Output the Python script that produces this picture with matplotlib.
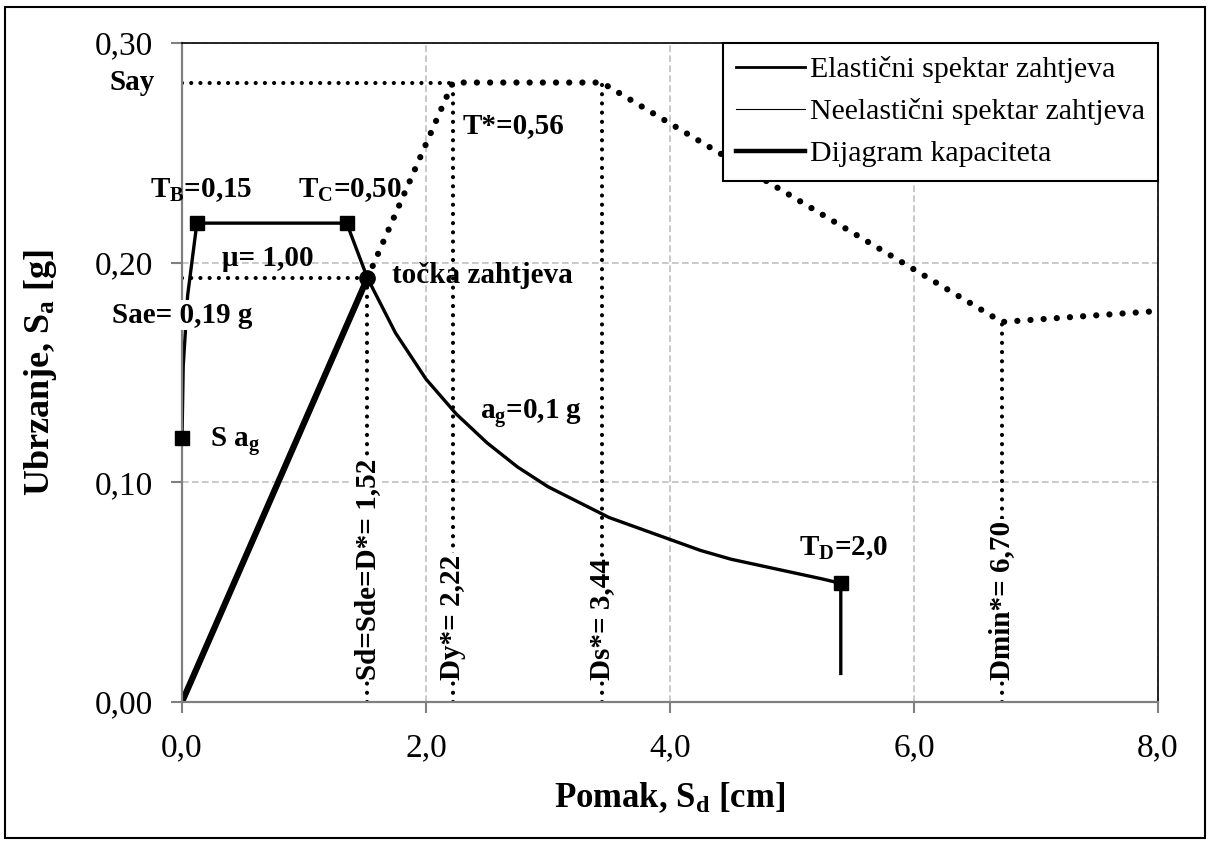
import matplotlib
matplotlib.use("Agg")
import matplotlib.pyplot as plt
from matplotlib.lines import Line2D
from matplotlib.patches import Rectangle

plt.rcParams['font.family'] = ['Liberation Serif', 'DejaVu Serif']
plt.rcParams['mathtext.fontset'] = 'custom'
plt.rcParams['mathtext.rm'] = 'Liberation Serif'
plt.rcParams['mathtext.bf'] = 'Liberation Serif:bold'
plt.rcParams['mathtext.it'] = 'Liberation Serif:italic'

# elastic demand spectrum (ADRS), mu = 1.00 so inelastic is the same curve
elastic_sd = [0.0, 0.01, 0.046, 0.122, 1.35, 1.52, 1.75, 2.0, 2.25, 2.5, 2.75, 3.0,
              3.25, 3.5, 3.75, 4.0, 4.25, 4.5, 4.75, 5.0, 5.25, 5.40, 5.40]
elastic_sa = [0.120, 0.153, 0.185, 0.218, 0.218, 0.193, 0.168, 0.147, 0.131, 0.118,
              0.107, 0.098, 0.091, 0.084, 0.079, 0.074, 0.069, 0.065, 0.062, 0.059,
              0.056, 0.054, 0.013]
# corner periods S*ag, T_B, T_C, T_D
corner_sd = [0.0, 0.122, 1.35, 5.40]
corner_sa = [0.120, 0.218, 0.218, 0.054]

# capacity diagram (solid up to the demand point, dotted beyond)
cap_sd = [0.0, 1.52]
cap_sa = [0.0, 0.193]
cap_rest_sd = [1.52, 2.22, 3.44, 6.72, 8.0]
cap_rest_sa = [0.193, 0.282, 0.282, 0.173, 0.178]

demand_sd, demand_sa = 1.52, 0.193
say = 0.282
dy, ds, dmin = 2.22, 3.44, 6.72
dmin_sa = 0.173

xticks = [0, 2, 4, 6, 8]
xlabels = ['0,0', '2,0', '4,0', '6,0', '8,0']
yticks = [0.0, 0.1, 0.2, 0.3]
ylabels = ['0,00', '0,10', '0,20', '0,30']

fig = plt.figure(figsize=(12.11, 8.46), dpi=100)
fig.patches.append(Rectangle((5 / 1211, 8 / 846), 1200 / 1211, 831 / 846, transform=fig.transFigure,
                             fill=False, edgecolor='black', linewidth=1.5))
ax = fig.add_axes([182 / 1211, 1 - 702 / 846, 976 / 1211, 659 / 846])
ax.set_xlim(0, 8)
ax.set_ylim(0, 0.30)

ax.grid(True, color='#c0c0c0', linestyle=(0, (4, 2)), linewidth=1.2)
ax.set_axisbelow(True)

big_dots = dict(color='black', linewidth=4.5, linestyle=(0, (0.01, 2.1)), dash_capstyle='round')
small_dots = dict(color='black', linewidth=3.0, linestyle=(0, (0.01, 2.2)), dash_capstyle='round')

# reference dotted lines
ax.plot([0, dy], [say, say], **small_dots)
ax.plot([0, demand_sd], [demand_sa, demand_sa], **small_dots)
ax.plot([demand_sd, demand_sd], [0, demand_sa], **small_dots)
ax.plot([dy, dy], [0, say], **small_dots)
ax.plot([ds, ds], [0, say], **small_dots)
ax.plot([dmin, dmin], [0, dmin_sa], **small_dots)

ax.plot(cap_rest_sd, cap_rest_sa, **big_dots)
ax.plot(elastic_sd, elastic_sa, color='black', linewidth=1.0)
ax.plot(elastic_sd, elastic_sa, color='black', linewidth=2.4)
ax.plot(cap_sd, cap_sa, color='black', linewidth=4.5, solid_capstyle='butt')
ax.plot(corner_sd, corner_sa, linestyle='none', marker='s', markersize=10, color='black',
        clip_on=False, zorder=4)
ax.plot([demand_sd], [demand_sa], linestyle='none', marker='o', markersize=11, color='black', zorder=4)

# spines and ticks
for s in ['left', 'bottom']:
    ax.spines[s].set_color('#808080')
    ax.spines[s].set_linewidth(1.6)
for s in ['top', 'right']:
    ax.spines[s].set_color('black')
    ax.spines[s].set_linewidth(1.2)
ax.set_xticks(xticks)
ax.set_xticklabels(xlabels)
ax.set_yticks(yticks)
ax.set_yticklabels(ylabels)
ax.tick_params(axis='both', direction='out', length=8, width=1.5, color='#808080', labelsize=24)
ax.tick_params(axis='x', pad=14)
ax.tick_params(axis='y', pad=13)

ax.text(0.5, -0.145, r'Pomak, S$_\mathbf{d}$ [cm]', transform=ax.transAxes, ha='center', va='center',
        fontsize=25, fontweight='bold')
ax.text(-0.145, 0.5, r'Ubrzanje, S$_\mathbf{a}$ [g]', transform=ax.transAxes, ha='center', va='center',
        rotation=90, fontsize=26, fontweight='bold')

# annotations
bold = dict(fontsize=21, fontweight='bold', color='black')
ax.text(-0.22, say, 'Say', ha='right', va='center', clip_on=False, **bold)
ax.text(-0.26, 0.233, r'$\mathbf{T}_\mathbf{B}$=0,15', ha='left', va='center', clip_on=False, **bold)
ax.text(0.95, 0.233, r'$\mathbf{T}_\mathbf{C}$=0,50', ha='left', va='center', **bold)
ax.text(0.33, 0.202, 'μ= 1,00', ha='left', va='center', **bold)
ax.text(1.72, 0.194, 'točka zahtjeva', ha='left', va='center', **bold)
ax.text(0.0, 0.176, 'Sae= 0,19 g', ha='center', va='center', clip_on=False,
        bbox=dict(facecolor='white', edgecolor='none', pad=1), **bold)
ax.text(0.23, 0.1185, r'S a$_\mathbf{g}$', ha='left', va='center', **bold)
ax.text(2.44, 0.1315, r'a$_\mathbf{g}$=0,1 g', ha='left', va='center', **bold)
ax.text(2.30, 0.2626, 'T*=0,56', ha='left', va='center', **bold)
ax.text(5.42, 0.070, r'$\mathbf{T}_\mathbf{D}$=2,0', ha='center', va='center', **bold)

white = dict(facecolor='white', edgecolor='none', pad=1)
ax.text(demand_sd, 0.010, 'Sd=Sde=D*= 1,52', rotation=90, ha='center', va='bottom', bbox=white, **bold)
ax.text(dy, 0.010, 'Dy*= 2,22', rotation=90, ha='center', va='bottom', bbox=white, **bold)
ax.text(ds, 0.010, 'Ds*= 3,44', rotation=90, ha='center', va='bottom', bbox=white, **bold)
ax.text(dmin, 0.010, 'Dmin*= 6,70', rotation=90, ha='center', va='bottom', bbox=white, **bold)

handles = [Line2D([], [], color='black', linewidth=2.0),
           Line2D([], [], color='black', linewidth=0.8),
           Line2D([], [], color='black', linewidth=3.2)]
leg = ax.legend(handles, ['Elastični spektar zahtjeva', 'Neelastični spektar zahtjeva', 'Dijagram kapaciteta'],
                loc='upper right', bbox_to_anchor=(1.0, 1.0), borderaxespad=0, fontsize=21.5,
                fancybox=False, framealpha=1, edgecolor='black', handlelength=2.3, handletextpad=0.15,
                labelspacing=0.5, borderpad=0.45)
leg.get_frame().set_linewidth(1.5)

fig.savefig('out.png', dpi=100)
